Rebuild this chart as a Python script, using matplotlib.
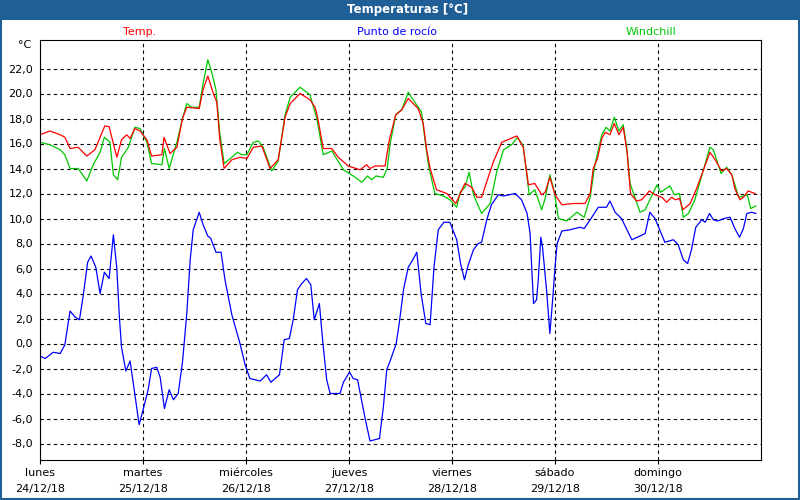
import matplotlib
matplotlib.use('Agg')
import matplotlib.pyplot as plt
from matplotlib.patches import Rectangle

# hours since lunes 24/12/18 00:00
temp_h = [0, 2.3, 4.7, 5.8, 7.0, 8.9, 10.9, 12.8, 15.1, 16.1, 17.9, 19.0, 20.2, 21.0, 22.1, 23.3,
          24.9, 26.0, 28.4, 28.9, 30.3, 31.9, 33.2, 34.2, 37.1, 38.0, 39.1, 40.4, 41.2, 41.9, 42.9,
          44.7, 46.6, 48.2, 49.7, 51.7, 53.6, 55.5, 57.1, 58.3, 60.6, 62.9, 64.1, 64.8, 66.0, 68.0,
          69.5, 71.8, 74.6, 76.1, 76.9, 78.1, 80.4, 81.4, 82.9, 84.3, 85.8, 88.1, 89.3, 90.1, 90.9,
          92.4, 94.8, 96.9, 99.0, 100.6, 101.8, 102.9, 105.6, 107.6, 111.1, 112.6, 113.8, 115.3,
          116.9, 117.7, 118.8, 120.0, 121.6, 124.3, 127.0, 128.2, 128.9, 129.9, 130.9, 131.7, 132.8,
          133.8, 134.9, 135.9, 136.8, 137.6, 139.0, 140.2, 142.0, 143.3, 144.9, 146.0, 147.2, 148.0,
          149.0, 149.8, 151.5, 153.0, 154.6, 156.1, 157.5, 158.8, 160.0, 161.2, 161.9, 163.1, 163.9,
          165.0, 166.6]
temp = [16.7, 17.0, 16.7, 16.5, 15.6, 15.7, 15.0, 15.5, 17.4, 17.35, 14.9, 16.3, 16.7, 16.4, 17.2, 17.0,
        16.3, 15.0, 15.1, 16.5, 15.2, 15.7, 18.0, 18.9, 18.8, 20.3, 21.4, 20.0, 19.3, 16.3, 14.0,
        14.7, 14.9, 14.8, 15.7, 15.8, 14.0, 14.7, 18.1, 19.2, 20.0, 19.5, 18.9, 17.9, 15.6, 15.6,
        14.9, 14.2, 13.9, 14.3, 14.0, 14.2, 14.2, 16.3, 18.3, 18.7, 19.6, 18.8, 17.6, 15.5, 14.0,
        12.3, 12.0, 11.2, 12.8, 12.5, 11.7, 11.7, 14.5, 16.1, 16.6, 15.7, 12.7, 12.8,
        11.9, 12.1, 13.3, 11.9, 11.1, 11.2, 11.2, 12.0, 14.0, 14.8, 16.4, 16.9, 16.7,
        17.6, 16.7, 17.3, 15.3, 12.0, 11.4, 11.5, 12.2, 11.9, 11.7, 11.3, 11.7, 11.5,
        11.6, 10.7, 11.2, 12.4, 13.9, 15.3, 14.6, 13.8, 14.0, 13.5, 12.4, 11.5, 11.7,
        12.2, 12.0]

dew_h = [0, 1.2, 3.1, 4.7, 5.8, 7.0, 8.2, 9.2, 10.1, 11.1, 11.9, 13.0, 14.0, 15.0, 16.1, 17.1, 17.9,
         18.5, 19.0, 20.0, 21.0, 21.7, 23.1, 24.1, 25.2, 26.0, 27.2, 28.0, 29.0, 30.1, 31.1, 32.2,
         33.2, 34.2, 35.0, 35.7, 37.1, 38.0, 39.1, 39.8, 41.0, 42.2, 43.1, 44.7, 46.6, 47.8, 48.9,
         51.3, 52.8, 53.8, 55.8, 56.9, 58.1, 59.0, 60.0, 61.0, 62.1, 63.1, 63.9, 65.1, 65.9, 66.8,
         67.6, 69.9, 70.7, 72.1, 73.0, 74.0, 75.7, 76.9, 79.1, 80.0, 80.8, 81.9, 83.0, 83.7, 84.7,
         85.8, 86.7, 87.8, 88.8, 89.9, 90.9, 91.8, 92.8, 94.1, 95.5, 97.1, 98.0, 98.9, 99.8, 101.0,
         102.1, 102.9, 104.1, 105.2, 106.8, 108.0, 110.7, 112.2, 113.5, 114.2, 114.6, 115.0, 115.7,
         116.1, 116.7, 117.1, 118.1, 118.8, 119.5, 120.0, 120.5, 121.6, 123.5, 125.8, 126.8, 128.2,
         130.1, 132.0, 132.8, 134.0, 135.5, 137.9, 139.8, 141.0, 142.1, 143.3, 145.6, 147.6, 148.7,
         149.9, 150.9, 151.8, 152.8, 154.2, 155.0, 156.0, 156.9, 157.9, 159.4, 160.8, 161.9, 163.0,
         163.9, 164.7, 165.8, 166.8]
dew = [-1.0, -1.2, -0.7, -0.8, -0.1, 2.6, 2.1, 1.9, 3.9, 6.5, 7.0, 6.1, 4.0, 5.7, 5.2, 8.7, 6.0,
       2.1, -0.3, -2.2, -1.4, -3.1, -6.5, -5.2, -3.7, -2.0, -1.9, -2.7, -5.2, -3.7, -4.5, -4.0,
       -1.5, 2.4, 6.7, 9.1, 10.5, 9.5, 8.6, 8.4, 7.3, 7.3, 5.1, 2.3, 0.0, -1.7, -2.8,
       -3.0, -2.5, -3.1, -2.5, 0.3, 0.4, 1.9, 4.3, 4.8, 5.2, 4.7, 1.9, 3.2, 0.1, -2.9,
       -4.0, -4.0, -3.1, -2.3, -2.8, -2.9, -5.9, -7.8, -7.6, -5.1, -2.1, -1.1, 0.0, 1.6, 4.3,
       6.1, 6.6, 7.3, 4.0, 1.6, 1.5, 6.1, 9.1, 9.7, 9.7, 8.3, 6.4, 5.1, 6.3, 7.5,
       8.0, 8.1, 9.9, 11.1, 11.9, 11.8, 12.0, 11.5, 10.4, 8.8, 5.9, 3.2, 3.5,
       5.1, 8.5, 7.7, 4.0, 0.8, 3.7, 6.1, 8.0, 9.0, 9.1, 9.3, 9.2, 9.9,
       10.9, 10.9, 11.4, 10.5, 10.0, 8.3, 8.6, 8.8, 10.5, 10.0, 8.1, 8.3, 7.9,
       6.7, 6.4, 7.5, 9.3, 9.9, 9.7, 10.4, 9.9, 9.8, 10.0, 10.1, 9.2, 8.5,
       9.2, 10.4, 10.5, 10.4]

wind_h = [0, 2.3, 4.7, 5.8, 7.0, 8.9, 10.9, 12.4, 14.0, 15.0, 16.3, 17.1, 18.1, 19.0, 20.6, 22.1,
          23.3, 24.9, 26.0, 28.4, 29.0, 30.1, 31.9, 33.2, 34.2, 35.3, 37.1, 38.0, 39.1, 40.0, 41.0,
          41.9, 42.9, 44.7, 46.0, 47.0, 48.2, 49.7, 50.9, 52.0, 54.0, 55.5, 57.1, 58.3, 60.6, 62.9,
          64.5, 66.0, 68.0, 70.7, 73.0, 75.0, 76.3, 77.3, 78.3, 80.0, 80.9, 81.6, 82.9, 84.3, 85.8,
          88.9, 89.7, 90.5, 92.0, 94.0, 95.5, 97.1, 97.9, 99.0, 100.0, 101.0, 102.9, 104.9, 106.4,
          108.0, 109.9, 111.3, 112.6, 114.0, 115.3, 116.9, 117.7, 118.8, 119.8, 120.8, 122.7, 125.1,
          126.8, 128.2, 129.3, 130.9, 131.9, 132.8, 133.8, 134.9, 135.9, 136.7, 137.5, 139.8, 141.0,
          142.8, 143.8, 144.6, 146.8, 147.8, 149.0, 149.9, 151.1, 152.6, 154.6, 156.1, 156.9, 158.7,
          160.0, 161.2, 162.8, 163.9, 164.8, 165.6, 166.8]
wind = [16.1, 15.9, 15.5, 15.1, 14.0, 14.0, 13.0, 14.3, 15.3, 16.5, 16.1, 13.5, 13.1, 14.9, 15.7, 17.3,
        17.2, 16.1, 14.4, 14.3, 15.6, 14.0, 16.1, 18.0, 19.2, 18.9, 18.9, 20.8, 22.7, 21.7, 20.3,
        16.8, 14.4, 14.9, 15.3, 15.1, 15.1, 16.1, 16.2, 15.7, 13.8, 14.6, 18.3, 19.7, 20.5, 19.9,
        18.0, 15.1, 15.4, 13.9, 13.4, 12.9, 13.4, 13.1, 13.4, 13.3, 14.0, 16.0, 18.3, 18.7, 20.1,
        18.5, 16.3, 14.3, 12.0, 11.8, 11.5, 10.9, 12.1, 12.5, 13.7, 11.9, 10.4, 11.2, 13.7,
        15.5, 15.9, 16.5, 15.8, 11.9, 12.3, 10.7, 11.6, 13.5, 12.2, 10.0, 9.8, 10.5,
        10.1, 11.7, 14.3, 16.7, 17.3, 17.0, 18.1, 17.0, 17.5, 15.7, 12.8, 10.5, 10.7,
        12.0, 12.7, 12.1, 12.6, 11.9, 12.0, 10.1, 10.4, 11.5, 13.9, 15.7, 15.5, 13.6,
        14.1, 13.5, 11.7, 11.8, 11.9, 10.8, 11.0]

day_names = ['lunes', 'martes', 'miércoles', 'jueves', 'viernes', 'sábado', 'domingo']
day_dates = ['24/12/18', '25/12/18', '26/12/18', '27/12/18', '28/12/18', '29/12/18', '30/12/18']
y_ticks = list(range(-8, 23, 2))

FRAME = '#1f5f96'
FS = 8

fig = plt.figure(figsize=(8, 5), dpi=100)
fig.patch.set_facecolor('white')
ax = fig.add_axes([0.05, 0.08, 0.90125, 0.84])

ax.plot(dew_h, dew, color='#0000ff', lw=0.9)
ax.plot(wind_h, wind, color='#00c800', lw=0.9)
ax.plot(temp_h, temp, color='#ff0000', lw=0.9)

ax.set_xlim(0, 168)
ax.set_ylim(-9.32, 24.28)
ax.set_yticks(y_ticks)
ax.set_yticklabels([f'{v:.1f}'.replace('.', ',') for v in y_ticks], fontsize=FS)
ax.set_xticks([24 * i for i in range(7)])
ax.set_xticklabels([f'{n}\n{d}' for n, d in zip(day_names, day_dates)], fontsize=FS,
                   linespacing=1.75)
ax.tick_params(axis='y', length=0, pad=5)
ax.tick_params(axis='x', length=3, width=0.8, pad=3)
ax.grid(True, color='black', linestyle=(0, (3, 3)), linewidth=0.8)
for s in ax.spines.values():
    s.set_linewidth(0.8)

ax.text(-0.012, 1.0, '°C', transform=ax.transAxes, ha='right', va='top', fontsize=FS)

# series labels above the plot
fig.text(140 / 800, 1 - 32 / 500, 'Temp.', color='#ff0000', ha='center', va='center', fontsize=FS)
fig.text(397 / 800, 1 - 32 / 500, 'Punto de rocío', color='#0000ff', ha='center', va='center', fontsize=FS)
fig.text(651 / 800, 1 - 32 / 500, 'Windchill', color='#00c800', ha='center', va='center', fontsize=FS)

# title bar and frame
fig.patches.append(Rectangle((0, 1 - 20 / 500), 1, 20 / 500, transform=fig.transFigure,
                             facecolor=FRAME, edgecolor='none', zorder=-1))
fig.patches.append(Rectangle((0.001, 0.002), 0.998, 0.996, transform=fig.transFigure,
                             facecolor='none', edgecolor=FRAME, linewidth=1.5))
fig.text(0.51, 1 - 10 / 500, 'Temperaturas [°C]', color='white', fontweight='bold',
         ha='center', va='center', fontsize=8.5)

fig.savefig('out.png', dpi=100)
